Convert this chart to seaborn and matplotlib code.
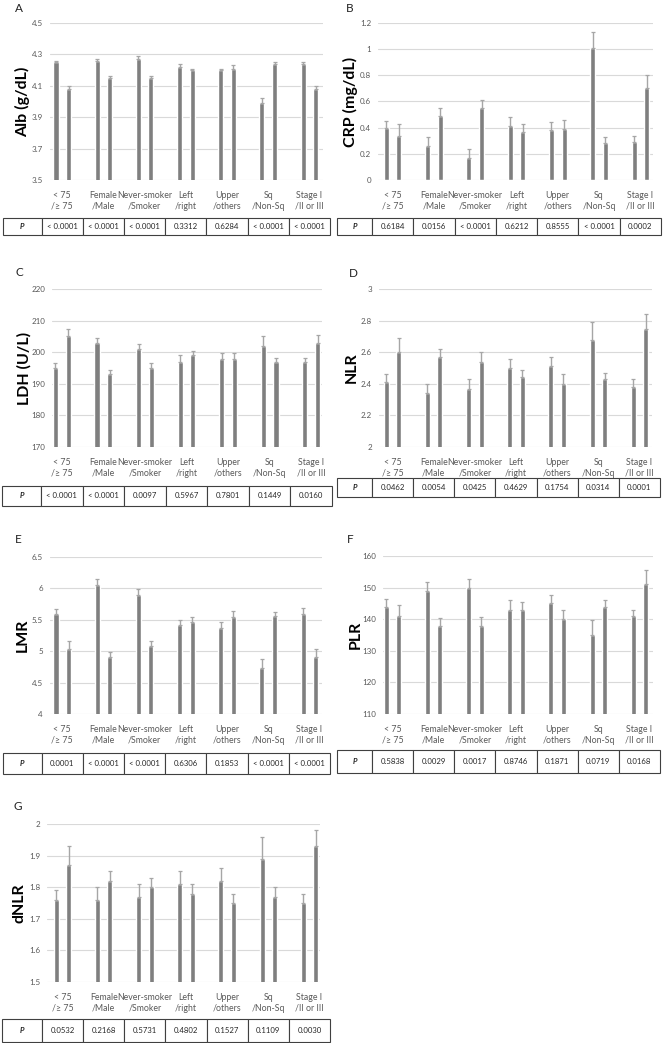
import numpy as np
import pandas as pd
import matplotlib
matplotlib.use("Agg")
import matplotlib.pyplot as plt
import seaborn as sns

# ---------------- data ----------------
categories = ["< 75\n/≥ 75", "Female\n/Male", "Never-smoker\n/Smoker", "Left\n/right",
              "Upper\n/others", "Sq\n/Non-Sq", "Stage I\n/II or III"]
subgroups = ["first", "second"]

alb_first = [4.25, 4.26, 4.27, 4.22, 4.20, 3.99, 4.24]
alb_second = [4.08, 4.15, 4.15, 4.20, 4.21, 4.24, 4.08]
alb_err_first = [0.01, 0.01, 0.02, 0.02, 0.01, 0.03, 0.01]
alb_err_second = [0.02, 0.01, 0.01, 0.01, 0.02, 0.01, 0.02]
alb_p = ["< 0.0001", "< 0.0001", "< 0.0001", "0.3312", "0.6284", "< 0.0001", "< 0.0001"]
alb_ticks = [3.5, 3.7, 3.9, 4.1, 4.3, 4.5]

crp_first = [0.40, 0.26, 0.17, 0.41, 0.38, 1.01, 0.29]
crp_second = [0.34, 0.49, 0.55, 0.37, 0.39, 0.28, 0.70]
crp_err_first = [0.05, 0.07, 0.07, 0.07, 0.06, 0.12, 0.05]
crp_err_second = [0.09, 0.06, 0.06, 0.06, 0.07, 0.05, 0.10]
crp_p = ["0.6184", "0.0156", "< 0.0001", "0.6212", "0.8555", "< 0.0001", "0.0002"]
crp_ticks = [0, 0.2, 0.4, 0.6, 0.8, 1.0, 1.2]

ldh_first = [195, 203, 201, 197, 198, 202, 197]
ldh_second = [205, 193, 195, 199, 198, 197, 203]
ldh_err_first = [1.5, 1.6, 1.7, 2.0, 1.6, 3.0, 1.3]
ldh_err_second = [2.2, 1.5, 1.6, 1.5, 1.8, 1.3, 2.3]
ldh_p = ["< 0.0001", "< 0.0001", "0.0097", "0.5967", "0.7801", "0.1449", "0.0160"]
ldh_ticks = [170, 180, 190, 200, 210, 220]

nlr_first = [2.41, 2.34, 2.37, 2.50, 2.51, 2.68, 2.38]
nlr_second = [2.60, 2.57, 2.54, 2.44, 2.40, 2.43, 2.75]
nlr_err_first = [0.05, 0.06, 0.06, 0.06, 0.06, 0.11, 0.05]
nlr_err_second = [0.09, 0.05, 0.06, 0.05, 0.06, 0.04, 0.09]
nlr_p = ["0.0462", "0.0054", "0.0425", "0.4629", "0.1754", "0.0314", "0.0001"]
nlr_ticks = [2.0, 2.2, 2.4, 2.6, 2.8, 3.0]

lmr_first = [5.59, 6.05, 5.89, 5.41, 5.37, 4.73, 5.60]
lmr_second = [5.04, 4.91, 5.09, 5.47, 5.54, 5.56, 4.91]
lmr_err_first = [0.08, 0.10, 0.10, 0.09, 0.09, 0.14, 0.08]
lmr_err_second = [0.12, 0.08, 0.08, 0.08, 0.10, 0.07, 0.12]
lmr_p = ["0.0001", "< 0.0001", "< 0.0001", "0.6306", "0.1853", "< 0.0001", "< 0.0001"]
lmr_ticks = [4.0, 4.5, 5.0, 5.5, 6.0, 6.5]

plr_first = [144, 149, 150, 143, 145, 135, 141]
plr_second = [141, 138, 138, 143, 140, 144, 151]
plr_err_first = [2.3, 2.8, 2.8, 3.0, 2.5, 4.7, 2.0]
plr_err_second = [3.5, 2.5, 2.7, 2.4, 3.0, 2.2, 4.5]
plr_p = ["0.5838", "0.0029", "0.0017", "0.8746", "0.1871", "0.0719", "0.0168"]
plr_ticks = [110, 120, 130, 140, 150, 160]

dnlr_first = [1.76, 1.76, 1.77, 1.81, 1.82, 1.89, 1.75]
dnlr_second = [1.87, 1.82, 1.80, 1.78, 1.75, 1.77, 1.93]
dnlr_err_first = [0.03, 0.04, 0.04, 0.04, 0.04, 0.07, 0.03]
dnlr_err_second = [0.06, 0.03, 0.03, 0.03, 0.03, 0.03, 0.05]
dnlr_p = ["0.0532", "0.2168", "0.5731", "0.4802", "0.1527", "0.1109", "0.0030"]
dnlr_ticks = [1.5, 1.6, 1.7, 1.8, 1.9, 2.0]

panel_letters = ["A", "B", "C", "D", "E", "F", "G"]
panel_ylabels = ["Alb (g/dL)", "CRP (mg/dL)", "LDH (U/L)", "NLR", "LMR", "PLR", "dNLR"]

panels = [
    (alb_first, alb_second, alb_err_first, alb_err_second, alb_p, alb_ticks),
    (crp_first, crp_second, crp_err_first, crp_err_second, crp_p, crp_ticks),
    (ldh_first, ldh_second, ldh_err_first, ldh_err_second, ldh_p, ldh_ticks),
    (nlr_first, nlr_second, nlr_err_first, nlr_err_second, nlr_p, nlr_ticks),
    (lmr_first, lmr_second, lmr_err_first, lmr_err_second, lmr_p, lmr_ticks),
    (plr_first, plr_second, plr_err_first, plr_err_second, plr_p, plr_ticks),
    (dnlr_first, dnlr_second, dnlr_err_first, dnlr_err_second, dnlr_p, dnlr_ticks),
]

# ---------------- layout (pixels) ----------------
W, H = 670, 1043
axes_px = [(50, 23, 323, 180), (378, 23, 653, 180),
           (52, 289, 322, 447), (379, 289, 652, 447),
           (50, 557, 322, 714), (383, 556, 653, 714),
           (47, 824, 320, 982)]
table_px = [(3, 41.7, 330, 218, 235), (337, 372, 661, 218, 235),
            (2, 41, 332, 486, 506), (337, 372, 660, 478, 497),
            (3, 41.7, 330, 753, 774), (337, 372, 660, 750, 773),
            (2, 42, 330, 1019, 1042)]
letter_px = [(15, 3), (346, 3), (15, 267), (349, 268), (15, 534), (347, 534), (13, 801)]

sns.set_theme(style="white")
plt.rcParams['font.family'] = ['Lato', 'DejaVu Sans']

BAR = "#7f7f7f"
ERR = "#a6a6a6"
GRID = "#d9d9d9"
TXT = "#595959"

fig = plt.figure(figsize=(W / 100, H / 100), dpi=100)
fig.patch.set_facecolor("white")


def frac(l, t, r, b):
    return [l / W, 1 - b / H, (r - l) / W, (b - t) / H]


for i, (first, second, e1, e2, pvals, ticks) in enumerate(panels):
    l, t, r, b = axes_px[i]
    ax = fig.add_axes(frac(l, t, r, b))
    df = pd.DataFrame({
        "cat": categories * 2,
        "group": [subgroups[0]] * len(categories) + [subgroups[1]] * len(categories),
        "value": list(first) + list(second),
    })
    sns.barplot(data=df, x="cat", y="value", hue="group", order=categories,
                hue_order=subgroups, palette=[BAR, BAR], saturation=1,
                width=0.61, gap=0.6, errorbar=None, legend=False, ax=ax)
    for cont, errs in zip(ax.containers, [e1, e2]):
        xs = [bar.get_x() + bar.get_width() / 2 for bar in cont]
        hs = [bar.get_height() for bar in cont]
        ax.errorbar(xs, hs, yerr=[np.zeros(len(errs)), errs], fmt="none",
                    ecolor=ERR, elinewidth=1.0, capsize=1.6, capthick=0.9, zorder=3)
    # x-limits aligned with table cells
    tl, tp, tr, ttop, tbot = table_px[i]
    cw = (tr - tp) / 7
    c0 = tp + cw / 2
    ax.set_xlim((l - c0) / cw, (r - c0) / cw)
    ax.set_ylim(ticks[0], ticks[-1])
    ax.set_yticks(ticks)
    ax.set_yticklabels([f"{v:g}" for v in ticks])
    ax.yaxis.grid(True, color=GRID, lw=0.8)
    ax.set_axisbelow(True)
    for s in ax.spines.values():
        s.set_visible(False)
    ax.tick_params(axis="both", length=0, colors=TXT)
    ax.tick_params(axis="x", pad=8, labelsize=6.3)
    ax.tick_params(axis="y", pad=5, labelsize=5.8)
    for lab in ax.get_xticklabels():
        lab.set_multialignment("center")
        lab.set_linespacing(1.25)
    ax.set_xlabel("")
    ax.set_ylabel(panel_ylabels[i], fontsize=11.5, fontweight="bold", color="black")
    ax.yaxis.set_label_coords(-20 / (r - l), 0.5)

    # p-value table
    tax = fig.add_axes(frac(tl, ttop, tr, tbot))
    tax.axis("off")
    widths = [tp - tl] + [cw] * 7
    tot = sum(widths)
    tbl = tax.table(cellText=[["P"] + list(pvals)], colWidths=[w / tot for w in widths],
                    cellLoc="center", bbox=[0, 0, 1, 1])
    tbl.auto_set_font_size(False)
    for (rr, cc), cell in tbl.get_celld().items():
        cell.set_edgecolor("#404040")
        cell.set_linewidth(0.8)
        cell.get_text().set_fontsize(5.6)
        cell.get_text().set_color("#262626")
        if cc == 0:
            cell.get_text().set_fontweight("bold")
            cell.get_text().set_fontstyle("italic")

    lx, ly = letter_px[i]
    fig.text(lx / W, 1 - ly / H, panel_letters[i], fontsize=8.5, va="top", ha="left",
             color="#222222")

fig.savefig("out.png", dpi=100, facecolor="white")
